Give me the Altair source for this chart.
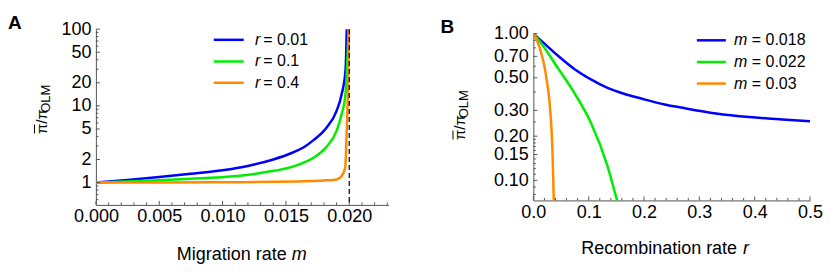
import altair as alt
import pandas as pd

FONT = "Liberation Sans"
AXIS_COLOR = "#555555"
COLORS = ["#0000ff", "#00ee00", "#ff8a00"]

# ---------------- Panel A : ratio vs migration rate m ----------------
a_series = ["0.01", "0.1", "0.4"]
a_m_r001 = [0.0, 0.0025, 0.005, 0.0075, 0.010, 0.012, 0.014, 0.0155, 0.0165, 0.0172,
            0.0182, 0.0190, 0.0194, 0.0197, 0.01976, 0.0198]
a_v_r001 = [1.0, 1.08, 1.18, 1.30, 1.45, 1.65, 2.0, 2.45, 2.95, 3.6,
            5.2, 8.6, 14.2, 28.6, 50.0, 100.0]
a_m_r01 = [0.0, 0.0025, 0.005, 0.0075, 0.0106, 0.0132, 0.0159, 0.0172, 0.0182, 0.0190,
           0.0194, 0.0197, 0.01987, 0.01995]
a_v_r01 = [1.0, 1.03, 1.07, 1.12, 1.20, 1.35, 1.69, 2.12, 2.92, 4.72,
           7.8, 14.2, 47.0, 100.0]
a_m_r04 = [0.0, 0.005, 0.010, 0.0159, 0.0182, 0.0190, 0.0194, 0.01968, 0.0198, 0.0199, 0.01998]
a_v_r04 = [1.0, 1.0, 1.01, 1.03, 1.07, 1.10, 1.22, 1.57, 4.7, 17.0, 100.0]
a_critical_m = 0.0200
a_x_domain = [0.0, 0.0231]
a_y_domain = [0.512, 100]
a_x_major = [0.0, 0.005, 0.010, 0.015, 0.020]
a_x_minor = [0.001, 0.002, 0.003, 0.004, 0.006, 0.007, 0.008, 0.009, 0.011, 0.012, 0.013,
             0.014, 0.016, 0.017, 0.018, 0.019, 0.021, 0.022, 0.023]
a_y_major = [1, 2, 5, 10, 20, 50, 100]
a_y_minor = [0.6, 0.7, 0.8, 0.9, 3, 4, 6, 7, 8, 9, 30, 40, 60, 70, 80, 90]

# ---------------- Panel B : ratio vs recombination rate r ----------------
b_series = ["0.018", "0.022", "0.03"]
b_r_m0018 = [0.0, 0.01, 0.02, 0.044, 0.074, 0.104, 0.134, 0.165, 0.195, 0.237, 0.27, 0.33,
             0.39, 0.45, 0.5]
b_v_m0018 = [1.0, 0.925, 0.855, 0.71, 0.575, 0.488, 0.427, 0.388, 0.361, 0.329, 0.312, 0.286,
             0.270, 0.260, 0.253]
b_r_m0022 = [0.0, 0.01, 0.02, 0.044, 0.074, 0.104, 0.134, 0.151, 0.155]
b_v_m0022 = [1.0, 0.90, 0.80, 0.585, 0.395, 0.247, 0.125, 0.074, 0.066]
b_r_m003 = [0.0, 0.005, 0.01, 0.015, 0.02, 0.025, 0.029, 0.032, 0.0345, 0.036, 0.0372]
b_v_m003 = [1.0, 0.93, 0.83, 0.72, 0.60, 0.46, 0.35, 0.25, 0.16, 0.10, 0.066]
b_x_domain = [0.0, 0.5]
b_y_domain = [0.073, 1.0]
b_x_major = [0.0, 0.1, 0.2, 0.3, 0.4, 0.5]
b_x_minor = [0.02, 0.04, 0.06, 0.08, 0.12, 0.14, 0.16, 0.18, 0.22, 0.24, 0.26, 0.28,
             0.32, 0.34, 0.36, 0.38, 0.42, 0.44, 0.46, 0.48]
b_y_major = [0.10, 0.15, 0.20, 0.30, 0.50, 0.70, 1.00]
b_y_minor = [0.08, 0.09, 0.11, 0.12, 0.13, 0.14, 0.16, 0.17, 0.18, 0.19, 0.25, 0.4, 0.6,
             0.8, 0.9]


def text(txt, x, y, size, **kw):
    return alt.Chart(alt.Data(values=[{}])).mark_text(
        text=txt, font=FONT, fontSize=size, color="black", **kw
    ).encode(x=alt.value(x), y=alt.value(y))


def make_axis(vals, fmt, pad):
    return alt.Axis(values=vals, format=fmt, title=None, ticks=False, tickSize=0,
                    labelPadding=pad, labelFontSize=18, labelFont=FONT,
                    labelColor="black", domainColor=AXIS_COLOR, domainWidth=1,
                    grid=False, labelFlush=False, labelOverlap=False)


def panel(curves, xs, ys, xaxis, yaxis, xmaj, xmin, ymaj, ymin, W, H):
    layers = []
    for xv, yv, col in curves:
        df = pd.DataFrame({"x": xv, "y": yv})
        layers.append(
            alt.Chart(df).mark_line(color=col, strokeWidth=2.5, clip=True,
                                    interpolate="monotone").encode(
                x=alt.X("x:Q", scale=xs, axis=xaxis),
                y=alt.Y("y:Q", scale=ys, axis=yaxis),
            )
        )
    # inward ticks (major and minor)
    for vals, ln in ((xmaj, 4), (xmin, 2.5)):
        layers.append(
            alt.Chart(pd.DataFrame({"x": vals})).mark_rule(color=AXIS_COLOR, strokeWidth=1).encode(
                x=alt.X("x:Q", scale=xs, axis=xaxis), y=alt.value(H), y2=alt.value(H - ln))
        )
    for vals, ln in ((ymaj, 4), (ymin, 2.5)):
        layers.append(
            alt.Chart(pd.DataFrame({"y": vals})).mark_rule(color=AXIS_COLOR, strokeWidth=1).encode(
                y=alt.Y("y:Q", scale=ys, axis=yaxis), x=alt.value(0), x2=alt.value(ln))
        )
    return layers


def legend(names, var, x0, x1, xv, xe, ys):
    layers = []
    for name, col, yy in zip(names, COLORS, ys):
        layers.append(alt.Chart(alt.Data(values=[{}])).mark_rule(color=col, strokeWidth=2.5).encode(
            x=alt.value(x0), x2=alt.value(x1), y=alt.value(yy)))
        layers.append(text(var, xv, yy, 16, fontStyle="italic", align="left", baseline="middle"))
        layers.append(text("= " + name, xe, yy, 16, align="left", baseline="middle"))
    return layers


def ytitle(xb, ystart, ysub, xsub):
    # pi-bar / pi_OLM, rotated
    return [
        text("π/π", xb, ystart, 15, angle=270, align="left", baseline="alphabetic"),
        alt.Chart(alt.Data(values=[{}])).mark_rule(color="black", strokeWidth=1).encode(
            x=alt.value(xb - 12.5), y=alt.value(ystart - 0.5), y2=alt.value(ystart - 9.5)),
        text("OLM", xsub, ysub, 13, angle=270, align="left", baseline="alphabetic"),
    ]


# ---- Panel A
WA, HA = 293, 176
xsA = alt.Scale(domain=a_x_domain, nice=False, zero=False)
ysA = alt.Scale(type="log", domain=a_y_domain, nice=False)
xaxA = make_axis(a_x_major, ".3f", 3)
yaxA = make_axis(a_y_major, "~g", 5)
layersA = panel([(a_m_r001, a_v_r001, COLORS[0]), (a_m_r01, a_v_r01, COLORS[1]),
                 (a_m_r04, a_v_r04, COLORS[2])],
                xsA, ysA, xaxA, yaxA, a_x_major, a_x_minor, a_y_major, a_y_minor, WA, HA)
layersA.append(
    alt.Chart(pd.DataFrame({"x": [a_critical_m]})).mark_rule(
        color="black", strokeDash=[5, 3], strokeWidth=1.2).encode(
        x=alt.X("x:Q", scale=xsA, axis=xaxA), y=alt.value(0), y2=alt.value(HA))
)
layersA += legend(a_series, "r", 118, 148, 159.3, 167.6, [10.7, 32.4, 53.7])
layersA += [
    text("A", -88, 0, 19, fontWeight="bold", align="left", baseline="alphabetic"),
    text("Migration rate", 191, 231, 18, align="right", baseline="alphabetic"),
    text("m", 196, 231, 18, fontStyle="italic", align="left", baseline="alphabetic"),
]
layersA += ytitle(-49, 105, 83.7, -45.7)
chartA = alt.layer(*layersA).properties(width=WA, height=HA)

# ---- Panel B
WB, HB = 277, 167
xsB = alt.Scale(domain=b_x_domain, nice=False, zero=False)
ysB = alt.Scale(type="log", domain=b_y_domain, nice=False)
xaxB = make_axis(b_x_major, ".1f", 3)
yaxB = make_axis(b_y_major, ".2f", 5)
layersB = panel([(b_r_m0018, b_v_m0018, COLORS[0]), (b_r_m0022, b_v_m0022, COLORS[1]),
                 (b_r_m003, b_v_m003, COLORS[2])],
                xsB, ysB, xaxB, yaxB, b_x_major, b_x_minor, b_y_major, b_y_minor, WB, HB)
layersB += legend(b_series, "m", 163.7, 192.7, 201, 218.7, [6.7, 28.4, 50])
layersB += [
    text("B", -93, -0.6, 19, fontWeight="bold", align="left", baseline="alphabetic"),
    text("Recombination rate", 204, 220.4, 18, align="right", baseline="alphabetic"),
    text("r", 210, 220.4, 18, fontStyle="italic", align="left", baseline="alphabetic"),
]
layersB += ytitle(-68, 106.5, 84.7, -65)
chartB = alt.layer(*layersB).properties(width=WB, height=HB)

chart = alt.hconcat(chartA, chartB, spacing=145, bounds="flush", center=True).properties(
    padding={"left": 0, "top": 6, "right": 0, "bottom": 0}
).configure_view(stroke=None)

chart.save("out.html", embed_options={"renderer": "svg", "actions": False})
